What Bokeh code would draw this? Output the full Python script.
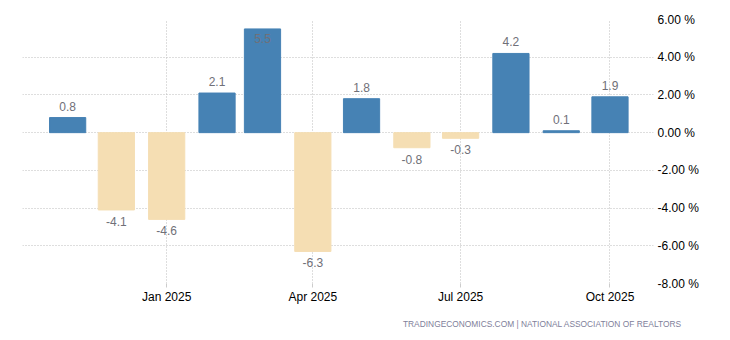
from datetime import datetime, timezone
from bokeh.plotting import figure
from bokeh.models import (ColumnDataSource, FixedTicker, DatetimeTickFormatter,
                          PrintfTickFormatter, Range1d, Title)
from bokeh.embed import file_html
from bokeh.resources import INLINE
from bokeh.core.properties import value

months = ["2024-11", "2024-12", "2025-01", "2025-02", "2025-03", "2025-04",
          "2025-05", "2025-06", "2025-07", "2025-08", "2025-09", "2025-10"]
values = [0.8, -4.1, -4.6, 2.1, 5.5, -6.3, 1.8, -0.8, -0.3, 4.2, 0.1, 1.9]
tick_months = ["2025-01", "2025-04", "2025-07", "2025-10"]
y_ticks = [-8, -6, -4, -2, 0, 2, 4, 6]
source_text = "TRADINGECONOMICS.COM  |  NATIONAL ASSOCIATION OF REALTORS"

POS = "#4682B4"
NEG = "#F5DEB3"
FONT = "Liberation Sans"

def ms(s):
    return datetime.strptime(s, "%Y-%m").replace(tzinfo=timezone.utc).timestamp() * 1000.0

DAY = 86400000.0
xs = [ms(m) for m in months]
ymin, ymax = -8, 6

colors = [POS if v >= 0 else NEG for v in values]
rows_b = dict(x=[], y=[], off=[], txt=[])
rows_t = dict(x=[], y=[], off=[], txt=[])
for x, v in zip(xs, values):
    txt = f"{v:.1f}"
    if v >= 0 and v <= ymax - 1:
        d, off = rows_b, -7
    elif v >= 0:
        d, off = rows_t, 5
    else:
        d, off = rows_t, 7
    d["x"].append(x); d["y"].append(v); d["off"].append(off); d["txt"].append(txt)

src = ColumnDataSource(dict(x=xs, top=values, color=colors))

p = figure(width=730, height=340, x_axis_type="datetime", y_axis_location="right",
           output_backend="svg", toolbar_location=None,
           min_border_left=22, min_border_right=77, min_border_top=19, min_border_bottom=57)
p.x_range = Range1d(ms("2024-10") + 3.2 * DAY, ms("2025-10") + 26.8 * DAY)
p.y_range = Range1d(ymin, ymax)
p.outline_line_color = None
p.background_fill_color = "white"
p.border_fill_color = "white"

p.vbar(x="x", top="top", bottom=0, width=22.3 * DAY, color="color", source=src)

p.text(x="x", y="y", text="txt", y_offset="off", source=ColumnDataSource(rows_b),
       text_align="center", text_baseline="bottom", text_font=value(FONT),
       text_font_size="12px", text_color="#707078")
p.text(x="x", y="y", text="txt", y_offset="off", source=ColumnDataSource(rows_t),
       text_align="center", text_baseline="top", text_font=value(FONT),
       text_font_size="12px", text_color="#707078")

xa = p.xaxis[0]
xa.ticker = FixedTicker(ticks=[ms(m) for m in tick_months])
xa.formatter = DatetimeTickFormatter(months="%b %Y", days="%b %Y", years="%b %Y")
xa.axis_line_color = None
xa.major_tick_line_color = "#cccccc"
xa.major_tick_out = 4
xa.major_tick_in = 0
xa.minor_tick_line_color = None
xa.major_label_text_font = FONT
xa.major_label_text_font_size = "12px"
xa.major_label_text_color = "#000000"
xa.major_label_standoff = 2

ya = p.yaxis[0]
ya.ticker = FixedTicker(ticks=y_ticks)
ya.formatter = PrintfTickFormatter(format="%.2f %%")
ya.axis_line_color = None
ya.major_tick_line_color = None
ya.major_tick_out = 0
ya.major_tick_in = 0
ya.minor_tick_line_color = None
ya.minor_tick_out = 0
ya.major_label_text_font = FONT
ya.major_label_text_font_size = "12px"
ya.major_label_text_color = "#000000"
ya.major_label_standoff = 4

p.xgrid.ticker = FixedTicker(ticks=[ms(m) for m in tick_months])
for g in (p.xgrid[0], p.ygrid[0]):
    g.grid_line_color = "#bdbdbd"
    g.grid_line_dash = "1 2"
    g.grid_line_width = 1

p.add_layout(Title(text=source_text, align="right", offset=-33, standoff=21,
                   text_font=FONT, text_font_size="8.4px", text_font_style="normal",
                   text_color="#80809a"), "below")

open("out.html", "w").write(file_html(p, INLINE))
